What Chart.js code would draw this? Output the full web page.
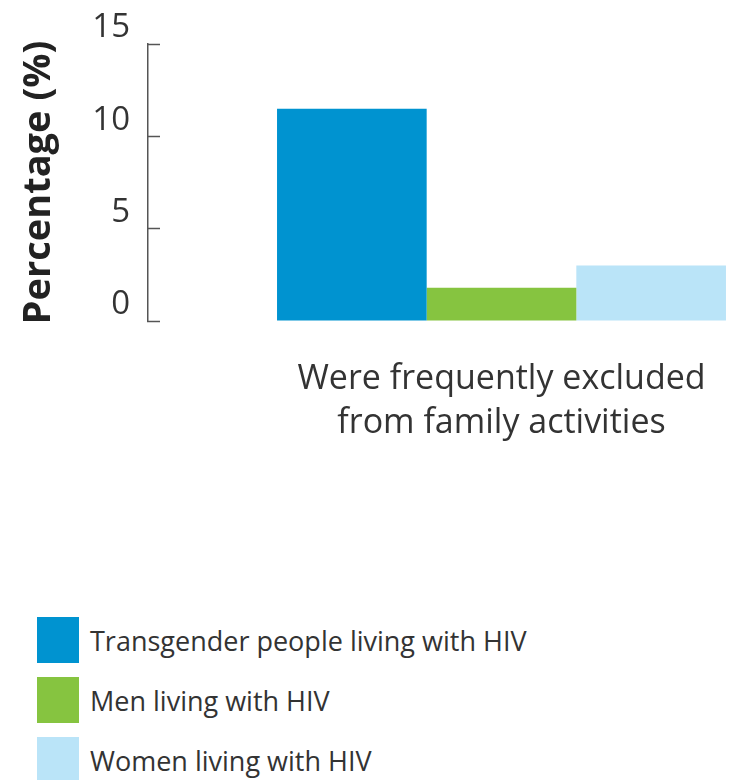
<!DOCTYPE html>
<html>
<head>
<meta charset="utf-8">
<script src="https://cdn.jsdelivr.net/npm/chart.js@4.4.1/dist/chart.umd.min.js"></script>
<style>
  html, body { margin: 0; padding: 0; background: #fff; overflow: hidden; }
  #wrap { position: relative; width: 729px; height: 780px; overflow: hidden; }
  #chart { position: absolute; left: 0; top: 0; }
  #legend { position: absolute; left: 37px; top: 610px; font-family: "Open Sans", Lato, sans-serif; font-weight: 400; }
  .item { display: flex; align-items: center; height: 60px; }
  .swatch { width: 42px; height: 46px; margin-right: 11px; }
  .item span { font-size: 27px; color: #333; position: relative; top: 0px; }
</style>
</head>
<body>
<div id="wrap">
  <canvas id="chart" width="855" height="491"></canvas>
  <div id="legend"></div>
</div>
<script>
const categories = [['Were frequently excluded', 'from family activities']];
const seriesNames = ['Transgender people living with HIV', 'Men living with HIV', 'Women living with HIV'];
const seriesValues = [[11.5], [1.8], [3.0]];
const seriesColors = ['#0093d0', '#86c440', '#bae4f8'];
const yTicks = [0, 5, 10, 15];

const FONT = '"Open Sans", Lato, sans-serif';

const datasets = seriesNames.map((name, i) => ({
    label: name,
    data: seriesValues[i],
    backgroundColor: seriesColors[i],
    borderWidth: 0,
    barPercentage: 1,
    categoryPercentage: 0.635,
}));

new Chart(document.getElementById('chart').getContext('2d'), {
    type: 'bar',
    data: { labels: categories, datasets },
    options: {
        responsive: false,
        animation: false,
        layout: { padding: { top: 44, bottom: 10, left: 0, right: 0 } },
        plugins: { legend: { display: false }, tooltip: { enabled: false } },
        scales: {
            x: {
                grid: { display: false, drawTicks: false },
                border: { display: false },
                ticks: {
                    color: '#333',
                    padding: 36,
                    font: { family: FONT, size: 34, weight: 400, lineHeight: 1.294 },
                },
            },
            y: {
                min: 0,
                max: 15,
                afterBuildTicks: (scale) => {
                    scale.ticks = yTicks.map((v) => ({ value: v }));
                },
                afterFit: (scale) => {
                    // fixed axis width, and no extra room reserved for the top label
                    scale.width = 148;
                    scale.paddingTop = 0;
                },
                grid: { drawOnChartArea: false, tickLength: -12, color: '#555', tickWidth: 1.5 },
                border: { display: true, color: '#555', width: 1.5 },
                ticks: {
                    color: '#333',
                    padding: 30,
                    labelOffset: -16,
                    font: { family: FONT, size: 33, weight: 400 },
                },
                title: {
                    display: true,
                    text: 'Percentage (%)',
                    color: '#222',
                    padding: { top: 16, bottom: 0 },
                    font: { family: FONT, size: 38, weight: 'bold' },
                },
            },
        },
    },
});

const legend = document.getElementById('legend');
seriesNames.forEach((name, i) => {
    const row = document.createElement('div');
    row.className = 'item';
    const sw = document.createElement('div');
    sw.className = 'swatch';
    sw.style.background = seriesColors[i];
    const txt = document.createElement('span');
    txt.textContent = name;
    row.appendChild(sw);
    row.appendChild(txt);
    legend.appendChild(row);
});
</script>
</body>
</html>
